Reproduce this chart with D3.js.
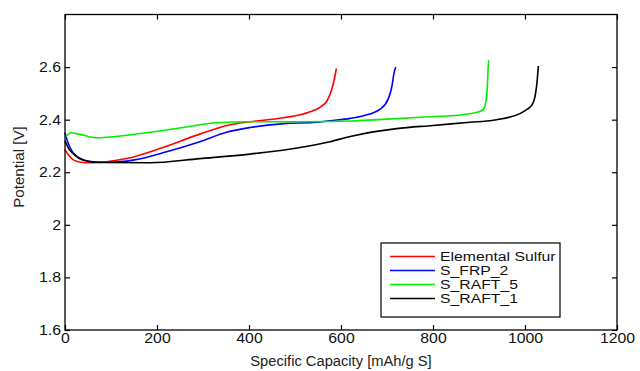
<!DOCTYPE html>
<html>
<head>
<meta charset="utf-8">
<script src="https://cdn.jsdelivr.net/npm/d3@7"></script>
<style>
  body { margin: 0; background: #fff; }
  text { font-family: "Liberation Sans", Arial, sans-serif; }
</style>
</head>
<body>
<svg id="chart" width="640" height="371"></svg>
<script>
// capacity [mAh/g S] and potential [V]
const sulfurCap = [0, 8, 20, 35, 55, 90, 134, 206, 293, 359, 402, 474, 533, 555, 569, 579, 585, 590];
const sulfurV   = [2.285, 2.265, 2.245, 2.238, 2.236, 2.24, 2.252, 2.29, 2.345, 2.381, 2.392, 2.407, 2.43, 2.448, 2.47, 2.51, 2.55, 2.595];

const frpCap = [0, 5, 15, 30, 61, 100, 148, 221, 293, 351, 402, 475, 547, 576, 620, 649, 685, 703, 711, 715, 719];
const frpV   = [2.35, 2.32, 2.28, 2.255, 2.24, 2.238, 2.246, 2.278, 2.316, 2.352, 2.37, 2.385, 2.39, 2.396, 2.405, 2.415, 2.44, 2.48, 2.53, 2.575, 2.6];

const raft5Cap = [0, 5, 12, 30, 69, 120, 185, 257, 330, 402, 500, 576, 620, 700, 780, 859, 900, 910, 915, 918, 920, 921];
const raft5V   = [2.335, 2.34, 2.35, 2.345, 2.331, 2.338, 2.352, 2.37, 2.388, 2.392, 2.392, 2.393, 2.395, 2.402, 2.41, 2.418, 2.43, 2.44, 2.47, 2.52, 2.6, 2.626];

const raft1Cap = [0, 8, 18, 40, 76, 185, 293, 402, 511, 576, 620, 721, 800, 880, 931, 989, 1005, 1015, 1022, 1026, 1029];
const raft1V   = [2.32, 2.29, 2.27, 2.246, 2.237, 2.236, 2.252, 2.269, 2.294, 2.316, 2.336, 2.366, 2.378, 2.39, 2.398, 2.423, 2.44, 2.455, 2.49, 2.54, 2.604];

const seriesNames  = ["Elemental Sulfur", "S_FRP_2", "S_RAFT_5", "S_RAFT_1"];
const seriesColors = ["#ff0000", "#0000ff", "#00ee00", "#000000"];
const seriesCaps = [sulfurCap, frpCap, raft5Cap, raft1Cap];
const seriesVs   = [sulfurV, frpV, raft5V, raft1V];

const xTicks = [0, 200, 400, 600, 800, 1000, 1200];
const yTicks = [1.6, 1.8, 2, 2.2, 2.4, 2.6];

const plotL = 65, plotR = 617, plotT = 14.5, plotB = 330;

const svg = d3.select('#chart');

const x = d3.scaleLinear().domain([0, 1200]).range([plotL, plotR]);
const y = d3.scaleLinear().domain([1.6, 2.8]).range([plotB, plotT]);

// the original font is a bit wider than Liberation Sans
const widen = (sel, k) => sel.each(function () {
  const w = this.getComputedTextLength();
  d3.select(this).attr('textLength', w * k).attr('lengthAdjust', 'spacingAndGlyphs');
});

const line = d3.line()
  .x(d => x(d[0]))
  .y(d => y(d[1]))
  .curve(d3.curveMonotoneX);

// curves
seriesNames.forEach((name, i) => {
  const pts = seriesCaps[i].map((c, j) => [c, seriesVs[i][j]]);
  svg.append('path')
    .datum(pts)
    .attr('fill', 'none')
    .attr('stroke', seriesColors[i])
    .attr('stroke-width', 1.6)
    .attr('stroke-linejoin', 'round')
    .attr('d', line);
});

// axes, ticks pointing inward
const fmt = d => d3.format('~g')(d);
const styleAxis = g => {
  g.select('.domain').remove();
  g.selectAll('line').attr('stroke', '#000').attr('stroke-width', 1.2);
  g.selectAll('text').attr('font-size', 14).attr('fill', '#111').call(widen, 1.13);
};

svg.append('g')
  .attr('transform', `translate(0,${plotB})`)
  .call(d3.axisBottom(x).tickValues(xTicks).tickSizeInner(-5).tickSizeOuter(0).tickPadding(3).tickFormat(fmt))
  .call(styleAxis);

svg.append('g')
  .attr('transform', `translate(0,${plotT})`)
  .call(d3.axisTop(x).tickValues(xTicks).tickSizeInner(-5).tickSizeOuter(0).tickFormat(''))
  .call(styleAxis);

svg.append('g')
  .attr('transform', `translate(${plotL},0)`)
  .call(d3.axisLeft(y).tickValues(yTicks).tickSizeInner(-5).tickSizeOuter(0).tickPadding(4).tickFormat(fmt))
  .call(styleAxis);

svg.append('g')
  .attr('transform', `translate(${plotR},0)`)
  .call(d3.axisRight(y).tickValues(yTicks).tickSizeInner(-5).tickSizeOuter(0).tickFormat(''))
  .call(styleAxis);

svg.append('rect')
  .attr('x', plotL).attr('y', plotT)
  .attr('width', plotR - plotL).attr('height', plotB - plotT)
  .attr('fill', 'none').attr('stroke', '#000').attr('stroke-width', 1.3);

// axis titles
svg.append('text')
  .attr('x', (plotL + plotR) / 2).attr('y', 366)
  .attr('text-anchor', 'middle').attr('font-size', 14).attr('fill', '#222')
  .text('Specific Capacity [mAh/g S]')
  .call(widen, 1.05);

svg.append('text')
  .attr('transform', 'translate(24,167) rotate(-90)')
  .attr('text-anchor', 'middle').attr('font-size', 14).attr('fill', '#222')
  .text('Potential [V]')
  .call(widen, 1.08);

// legend
const lg = svg.append('g').attr('transform', 'translate(381,243)');
lg.append('rect')
  .attr('width', 179).attr('height', 74)
  .attr('fill', '#fff').attr('stroke', '#000').attr('stroke-width', 1.2);
seriesNames.forEach((name, i) => {
  const ry = 13.5 + i * 14;
  lg.append('line')
    .attr('x1', 9).attr('x2', 54).attr('y1', ry).attr('y2', ry)
    .attr('stroke', seriesColors[i]).attr('stroke-width', 1.6);
  lg.append('text')
    .attr('x', 59).attr('y', ry + 4.5)
    .attr('font-size', 12.5).attr('fill', '#111')
    .text(name)
    .call(widen, 1.26);
});
</script>
</body>
</html>
